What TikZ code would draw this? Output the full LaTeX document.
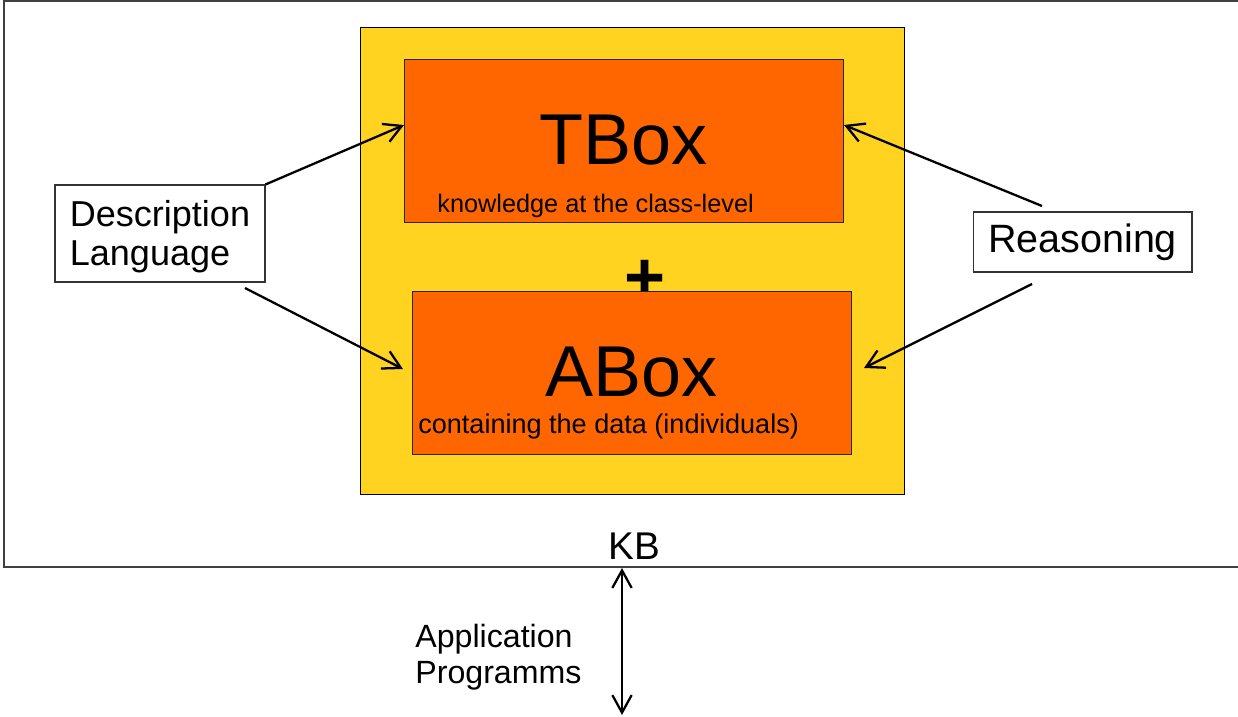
\documentclass[tikz,border=0pt]{standalone}
\usepackage{fontspec}
\setmainfont{Liberation Sans}
\usetikzlibrary{arrows.meta,calc}

\definecolor{kbyellow}{HTML}{FFD320}
\definecolor{boxorange}{HTML}{FF6600}

\tikzset{
    px/.style={x=0.02cm, y=-0.02cm},
    labelbox/.style={draw=black!80, fill=white, line width=0.6pt, align=left, inner sep=0pt},
    subbox/.style={draw=black!85, fill=boxorange, line width=0.5pt, inner sep=0pt,
        minimum width=8.78cm, minimum height=3.26cm},
    note/.style={anchor=base west, inner sep=0pt},
    link/.style={-{Straight Barb[length=10pt,width=11pt]}, line width=1.3pt},
}

\begin{document}
\begin{tikzpicture}[px]

    \useasboundingbox (0,0) rectangle (1238,717);
    \clip (0,0) rectangle (1238,717);

    % frame round the knowledge base
    \draw[black!75, line width=0.8pt]
        (4,1) rectangle (1260,567);

    % KB
    \node[draw=black, fill=kbyellow, line width=0.6pt, inner sep=0pt,
          minimum width=10.9cm, minimum height=9.36cm] (kb) at (632.5,261) {};

    % plus
    \node[font=\fontsize{40}{40}\selectfont\bfseries, inner sep=0pt] (plus) at (645,281) {+};

    % TBox
    \node[subbox, font=\fontsize{41}{41}\selectfont] (tbox) at (623.5,140.5) {TBox};
    \node[note, font=\fontsize{14.4}{16}\selectfont]
        (tnote) at (437,212) {knowledge at the class-level};

    % ABox
    \node[subbox, font=\fontsize{41}{41}\selectfont] (abox) at (631.5,372.5) {ABox};
    \node[note, font=\fontsize{15.4}{17}\selectfont]
        (anote) at (418,433) {containing the data (individuals)};

    % side labels
    \node[labelbox, minimum width=4.2cm, minimum height=1.94cm,
          font=\fontsize{20.5}{22.5}\selectfont] (dl) at (160,233.5) {\rule{0pt}{0.9em}Description\\Language};
    \node[labelbox, minimum width=4.38cm, minimum height=1.2cm,
          font=\fontsize{22.5}{24}\selectfont] (reason) at (1082.5,242) {Reasoning};

    % KB label and applications
    \node[anchor=base, inner sep=0pt, font=\fontsize{22}{24}\selectfont]
        (kblabel) at (634.5,559) {KB};
    \node[note, align=left, font=\fontsize{18.3}{20.4}\selectfont]
        (app) at (415,683) {Application\\Programms};

    % arrow ends
    \coordinate (dl_low) at (245,288);
    \coordinate (re_up) at (1042,206);
    \coordinate (re_low) at (1032,284);
    \coordinate (tbox_l) at (404,125);
    \coordinate (abox_l) at (403,369);
    \coordinate (tbox_r) at (844,125);
    \coordinate (abox_r) at (864,368);
    \coordinate (kb_out) at (622,568);
    \coordinate (app_end) at (622,715);

    % description language
    \draw[link] (dl.north east) -- (tbox_l);
    \draw[link] (dl_low) -- (abox_l);

    % reasoning
    \draw[link] (re_up) -- (tbox_r);
    \draw[link] (re_low) -- (abox_r);

    % application programs
    \draw[link, {Straight Barb[length=10pt,width=11pt]}-{Straight Barb[length=10pt,width=11pt]}]
        (kb_out) --
        (app_end);

\end{tikzpicture}
\end{document}
